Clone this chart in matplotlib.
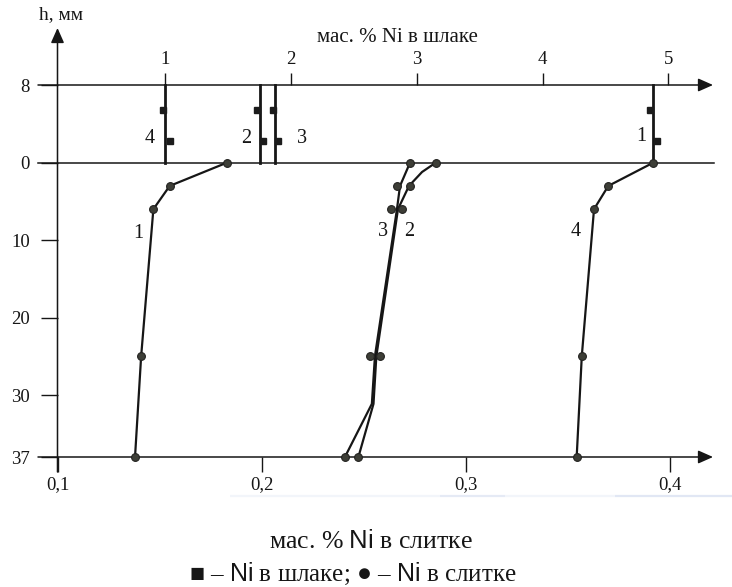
import numpy as np
import matplotlib
matplotlib.use("Agg")
import matplotlib.pyplot as plt
from matplotlib.lines import Line2D

plt.rcParams["font.family"] = ["Liberation Serif", "DejaVu Serif"]
plt.rcParams["mathtext.fontset"] = "custom"
plt.rcParams["mathtext.rm"] = "Liberation Serif"
plt.rcParams["mathtext.sf"] = "Liberation Sans"

# ---- ingot: depth below the slag/metal boundary (mm) and mass % Ni ----
ingot_h = [0, 3, 6, 25, 37]
ingot1_ni = [0.183, 0.155, 0.147, 0.141, 0.138]
ingot2_ni = [0.2854, 0.2728, 0.2687, 0.2581, 0.2475]
ingot3_ni = [0.2728, 0.2663, 0.2635, 0.2532, 0.2409]
ingot4_ni = [0.392, 0.370, 0.363, 0.357, 0.3545]

# smoothed profiles drawn for ingots 2 and 3
trace2_h = [0, 1.2, 3, 6, 25, 31, 37]
trace2_ni = [0.2854, 0.2787, 0.2723, 0.2669, 0.2563, 0.2549, 0.2475]
trace3_h = [0, 3, 6, 25, 31, 37]
trace3_ni = [0.2728, 0.2679, 0.2664, 0.2556, 0.2541, 0.2409]

# ---- slag: height above the boundary (mm) and mass % Ni ----
slag_h = [2.2, 5.4]
slag_top = 8
slag1_level, slag1_ni = 4.876, [4.910, 4.857]
slag2_level, slag2_ni = 1.753, [1.779, 1.732]
slag3_level, slag3_ni = 1.875, [1.899, 1.859]
slag4_level, slag4_ni = 1.000, [1.037, 0.984]

y_ticks = [-8, 0, 10, 20, 30, 37]
y_labels = ["8", "0", "10", "20", "30", "37"]
x_ticks = [0.1, 0.2, 0.3, 0.4]
x_labels = ["0,1", "0,2", "0,3", "0,4"]
slag_ticks = [1, 2, 3, 4, 5]

INK = "#161616"
DOT = "#3d3e37"

W, H = 732, 587
fig = plt.figure(figsize=(W / 100, H / 100), dpi=100)
fig.patch.set_facecolor("white")

# vertical scale: slag layer, ingot body and the lowest segment have their own steps
H_KNOTS = np.array([-40.0, -8.0, 0.0, 30.0, 37.0, 80.0])
U_KNOTS = np.array([-77.7 - 32 * 9.71, -77.7, 0.0, 232.3, 294.3, 294.3 + 43 * 8.86])


def fwd(h):
    return np.interp(h, H_KNOTS, U_KNOTS)


def inv(u):
    return np.interp(u, U_KNOTS, H_KNOTS)


def px2b(px):
    return 0.1 + (px - 57.5) / 2040.0


def s2b(s):
    return 0.1 + (107.8 + (np.asarray(s) - 1.0) * 125.75) / 2040.0


def b2s(b):
    return 1.0 + ((np.asarray(b) - 0.1) * 2040.0 - 107.8) / 125.75


ax = fig.add_axes([30 / W, (H - 470) / H, 695 / W, 450 / H])
ax.set_yscale("function", functions=(fwd, inv))
ax.set_xlim(px2b(30), px2b(725))
ax.set_ylim(inv(470 - 162.7), inv(20 - 162.7))
ax.set_facecolor("none")

for sp in ax.spines.values():
    sp.set_visible(False)
ax.spines["left"].set_position(("data", 0.1))
ax.spines["bottom"].set_position(("data", 37))

ax.set_yticks(y_ticks)
ax.set_yticklabels(y_labels)
ax.set_xticks(x_ticks)
ax.set_xticklabels(x_labels)
ax.tick_params(axis="y", direction="out", length=12, width=1.0, pad=8,
               labelsize=13.5, color=INK, labelcolor=INK)
ax.tick_params(axis="x", direction="out", length=10.5, width=1.0, pad=3,
               labelsize=13.5, color=INK, labelcolor=INK)

# top scale: mass % Ni in slag
loc = ax.transAxes.inverted().transform(ax.transData.transform((0.2, -slag_top)))[1]
sec = ax.secondary_xaxis(loc, functions=(b2s, s2b))
sec.set_xticks(slag_ticks)
sec.set_xticklabels([str(t) for t in slag_ticks])
for sp in sec.spines.values():
    sp.set_visible(False)
sec.tick_params(axis="x", direction="out", length=8.5, width=1.0, pad=4,
                labelsize=13.5, color=INK, labelcolor=INK)

# axis lines with arrow heads
arrow = dict(arrowstyle="-|>,head_length=0.45,head_width=0.2", lw=1.1,
             color=INK, shrinkA=0, shrinkB=0, mutation_scale=20)
ax.annotate("", xy=(0.1, inv(28 - 162.7)), xytext=(0.1, inv(472 - 162.7)),
            arrowprops=arrow)
ax.annotate("", xy=(px2b(713), -slag_top), xytext=(px2b(38), -slag_top),
            arrowprops=arrow)
ax.annotate("", xy=(px2b(713), 37), xytext=(px2b(38), 37), arrowprops=arrow)
ax.plot([px2b(38), px2b(714)], [0, 0], color=INK, lw=1.1)

# ingot profiles
line_kw = dict(color=INK, lw=1.6, solid_capstyle="round", zorder=3)
dot_kw = dict(ls="none", marker="o", ms=5.6, mfc=DOT, mec="#222220", mew=0.8, zorder=4)
ax.plot(ingot1_ni, ingot_h, **line_kw)
ax.plot(ingot4_ni, ingot_h, **line_kw)
ax.plot(trace2_ni, trace2_h, **line_kw)
ax.plot(trace3_ni, trace3_h, **line_kw)
for ni in (ingot1_ni, ingot2_ni, ingot3_ni, ingot4_ni):
    ax.plot(ni, ingot_h, **dot_kw)

# slag profiles (plotted above the boundary as negative depth)
sq_kw = dict(ls="none", marker="s", ms=4.3, mfc="#1c1c1c", mec="#1c1c1c", zorder=4)
for level, pts in ((slag1_level, slag1_ni), (slag2_level, slag2_ni),
                   (slag3_level, slag3_ni), (slag4_level, slag4_ni)):
    ax.plot(s2b([level, level]), [0, -slag_top], color=INK, lw=2.0, zorder=3)
    ax.plot(s2b(pts), [-h for h in slag_h], **sq_kw)

# curve numbers
num_kw = dict(fontsize=14.5, color=INK, ha="center", va="center")
ax.text(0.1395, 9.1, "1", **num_kw)
ax.text(0.2594, 8.9, "3", **num_kw)
ax.text(0.2725, 8.9, "2", **num_kw)
ax.text(0.3538, 8.9, "4", **num_kw)
ax.text(0.1453, -2.5, "4", **num_kw)
ax.text(0.1923, -2.5, "2", **num_kw)
ax.text(0.2197, -2.5, "3", **num_kw)
ax.text(0.3860, -2.7, "1", **num_kw)

# captions
fig.text(61 / W, 1 - 15 / H, "h, мм", fontsize=14, color=INK, ha="center", va="center")
fig.text(397 / W, 1 - 37 / H, "мас. % Ni в шлаке", fontsize=15, color=INK,
         ha="center", va="center")
fig.text(371 / W, 1 - 542 / H, "мас. % $\\mathsf{Ni}$ в слитке", fontsize=18.5,
         color=INK, ha="center", va="center")
fig.text(353 / W, 1 - 573.5 / H, "■ – $\\mathsf{Ni}$ в шлаке; ● – $\\mathsf{Ni}$ в слитке",
         fontsize=18, color=INK, ha="center", va="center")

# faint bluish streak left by the scanner under the ingot axis
for x0, x1, a in ((230, 440, 0.15), (440, 505, 0.3), (505, 615, 0.15), (615, 732, 0.35)):
    fig.add_artist(Line2D([x0 / W, x1 / W], [1 - 495.5 / H] * 2, transform=fig.transFigure,
                          color="#a9bce0", lw=1.6, alpha=a, solid_capstyle="butt"))

fig.savefig("out.png", dpi=100, facecolor="white")
